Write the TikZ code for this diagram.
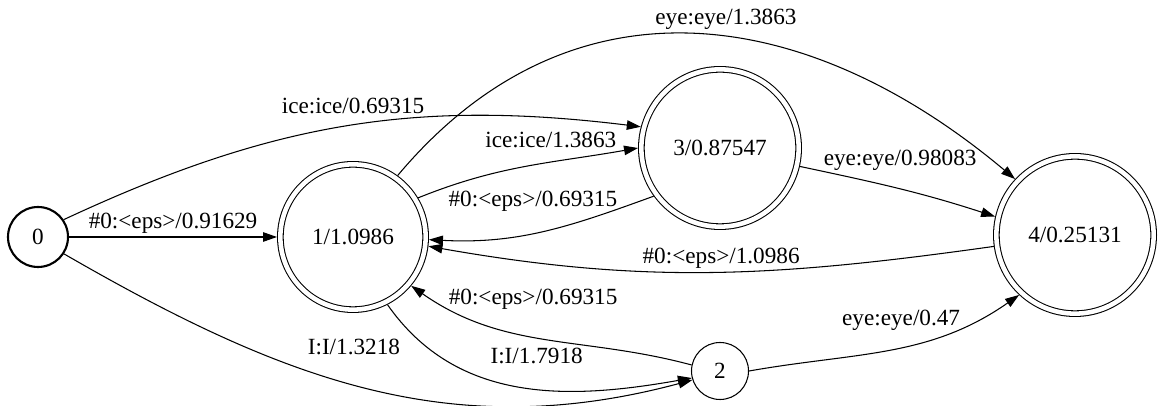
\documentclass[tikz,border=0pt]{standalone}
\usepackage{fontspec}
\setmainfont{Liberation Serif}
\usepackage{tikz}
\usetikzlibrary{arrows.meta}

\begin{document}
\begin{tikzpicture}[
  font=\fontsize{13.2}{15}\selectfont,
  state/.style={circle, draw, line width=0.6pt, inner sep=0pt,
                minimum size=1.14cm},
  start/.style={state, line width=1.2pt, minimum size=1.2cm},
  final/.style={circle, draw, double, line width=0.6pt, double distance=2.6pt,
                inner sep=0pt, outer sep=1.9pt, minimum size=3.146cm},
  lbl/.style={inner sep=2pt},
  arr/.style={->, line width=0.6pt, >={Triangle[length=0.28cm, width=0.19cm]}}
]
\useasboundingbox (0,0) rectangle (23.16,8.12);

%% ---- States ----
\node[start] (n0) at (0.76, 3.38) {0};
\node[final, minimum size=2.906cm] (n1) at (7.06, 3.38) {1/1.0986};
\node[final] (n3) at (14.40, 5.16) {3/0.87547};
\node[final] (n4) at (21.50, 3.42) {4/0.25131};
\node[state] (n2) at (14.40, 0.70) {2};

%% ---- Arcs out of 0 ----
\draw[arr] (n0) -- node[lbl, above] {\#0:<eps>/0.91629} (n1);
\draw[arr] (n0.34) to[out=25, in=173]
  node[lbl, pos=0.515, above=4pt] {ice:ice/0.69315} (n3.165);
\draw[arr] (n0.-33) to[out=-30, in=195]
  node[lbl, pos=0.475, above=0.52cm] {I:I/1.3218} (n2.198);

%% ---- Arcs out of 1 ----
\draw[arr] (n1.31) to[out=22, in=190]
  node[lbl, pos=0.62, above=5.5pt] {ice:ice/1.3863} (n3.180);
\draw[arr] (n1.54) to[out=50, in=140, looseness=1.12]
  node[lbl, pos=0.55, above=2pt] {eye:eye/1.3863} (n4.137);
\draw[arr] (n1.-63) to[out=-55, in=190]
  node[lbl, pos=0.55, above=12pt] {I:I/1.7918} (n2.194);

%% ---- Arcs back into 1 ----
\draw[arr] (n3.216) to[out=200, in=-3]
  node[lbl, pos=0.55, above=10pt] {\#0:<eps>/0.69315} (n1.-2);
\draw[arr] (n4.188) to[out=188, in=-10]
  node[lbl, pos=0.48, above] {\#0:<eps>/1.0986} (n1.-7.5);
\draw[arr] (n2.168) to[out=165, in=-35]
  node[lbl, pos=0.545, above=13pt] {\#0:<eps>/0.69315} (n1.-40);

%% ---- Arcs into 4 ----
\draw[arr] (n3.-13) to[out=-12, in=162]
  node[lbl, pos=0.51, above=8pt] {eye:eye/0.98083} (n4.167);
\draw[arr] (n2.0) to[out=10, in=215]
  node[lbl, pos=0.54, above=7pt] {eye:eye/0.47} (n4.227);

\end{tikzpicture}
\end{document}
